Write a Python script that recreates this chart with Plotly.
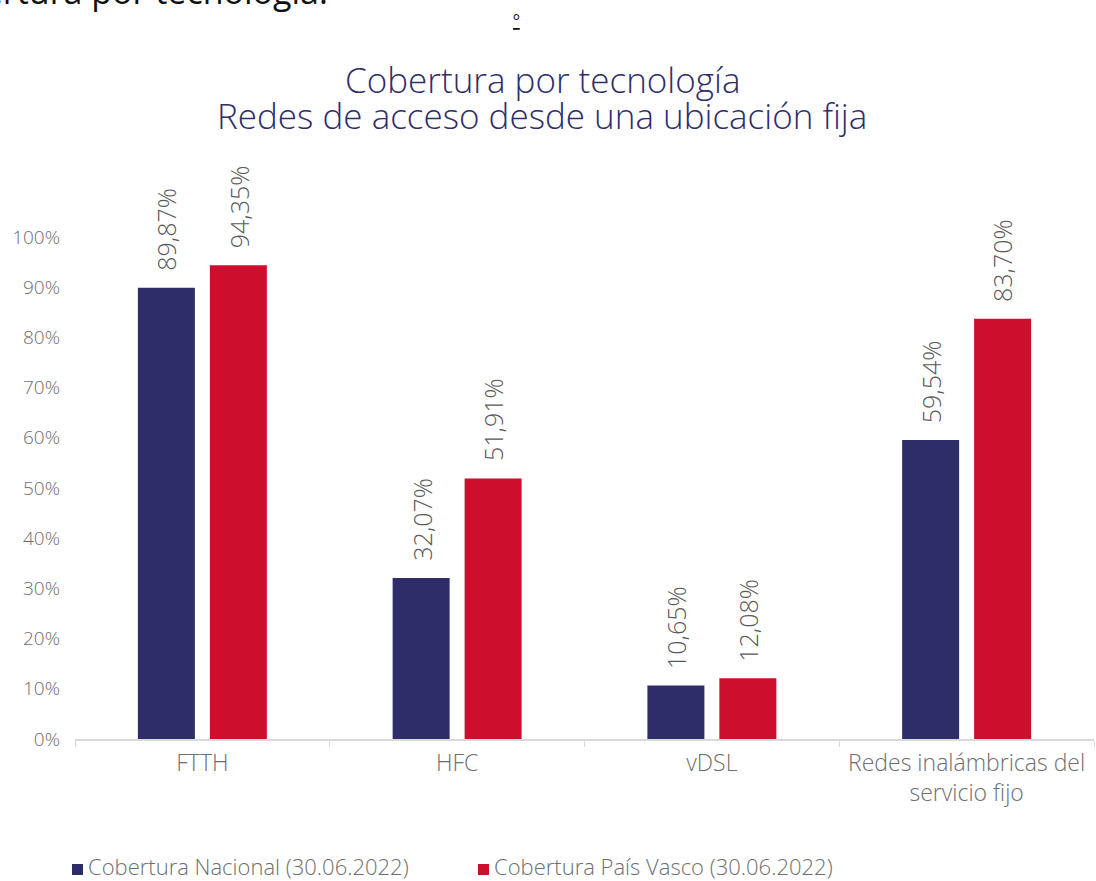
import plotly.graph_objects as go

# Coverage by access technology (fixed location), share of premises
categorias = ["FTTH", "HFC", "vDSL", "Redes inalámbricas del<br>servicio fijo"]
nacional = [89.87, 32.07, 10.65, 59.54]
pais_vasco = [94.35, 51.91, 12.08, 83.70]
serie_nacional = "Cobertura Nacional (30.06.2022)"
serie_vasco = "Cobertura País Vasco (30.06.2022)"
y_ticks = [0, 10, 20, 30, 40, 50, 60, 70, 80, 90, 100]
titulo = ["Cobertura por tecnología", "Redes de acceso desde una ubicación fija"]

AZUL = "#2E2D69"
ROJO = "#CE0E2D"
GRIS = "#6E6E6E"
FUENTE = "Open Sans"

W, H = 1096, 881
L, R, T, B = 75, 2, 237, 142
plot_w = W - L - R
plot_h = H - T - B


def px_x(p):
    return (p - L) / plot_w


def px_y(p):
    return (H - B - p) / plot_h


def etiqueta(v):
    return f"{v:.2f}".replace(".", ",") + "%"


fig = go.Figure()
fig.add_trace(go.Bar(x=categorias, y=nacional, name=serie_nacional, showlegend=False,
                     marker=dict(color=AZUL, line=dict(width=0))))
fig.add_trace(go.Bar(x=categorias, y=pais_vasco, name=serie_vasco, showlegend=False,
                     marker=dict(color=ROJO, line=dict(width=0))))

BARGAP = 0.435
BARGROUPGAP = 0.208
slot = (1 - BARGAP) / 2
annotations = []
shapes = []
for i in range(len(categorias)):
    for v, off in ((nacional[i], -slot / 2), (pais_vasco[i], slot / 2)):
        annotations.append(dict(
            x=i + off, y=v, xref="x", yref="y", text=etiqueta(v),
            textangle=-90, showarrow=False, xanchor="center", yanchor="bottom",
            yshift=15, font=dict(family=FUENTE, size=25, color="#595959", weight=300),
        ))

# chart title, two lines
for linea, cy in zip(titulo, (79, 115)):
    annotations.append(dict(
        x=px_x(542), y=px_y(cy), xref="paper", yref="paper", text=linea,
        showarrow=False, xanchor="center", yanchor="middle",
        font=dict(family=FUENTE, size=35, color=AZUL, weight=300),
    ))

# legend row: coloured square followed by the series name
for nombre, color, x0 in ((serie_nacional, AZUL, 72), (serie_vasco, ROJO, 478)):
    shapes.append(dict(
        type="rect", xref="paper", yref="paper",
        x0=px_x(x0), x1=px_x(x0 + 11), y0=px_y(875), y1=px_y(864),
        fillcolor=color, line=dict(width=0),
    ))
    annotations.append(dict(
        x=px_x(x0 + 15), y=px_y(866), xref="paper", yref="paper",
        text=nombre, showarrow=False, xanchor="left", yanchor="middle", borderpad=0,
        font=dict(family=FUENTE, size=22, color=GRIS, weight=300),
    ))

# heading text at the top of the page
annotations.append(dict(
    x=px_x(330), y=px_y(-9), xref="paper", yref="paper", text="Cobertura por tecnología.",
    showarrow=False, xanchor="right", yanchor="middle",
    font=dict(family=FUENTE, size=34, color="#111111"),
))
annotations.append(dict(
    x=px_x(516), y=px_y(20), xref="paper", yref="paper", text="<u>º</u>",
    showarrow=False, xanchor="center", yanchor="middle",
    font=dict(family=FUENTE, size=18, color="#111111"),
))

fig.update_layout(
    width=W, height=H,
    margin=dict(l=L, r=R, t=T, b=B, autoexpand=False),
    paper_bgcolor="white", plot_bgcolor="white",
    barmode="group", bargap=BARGAP, bargroupgap=BARGROUPGAP,
    showlegend=False,
    xaxis=dict(
        showline=True, linecolor="#D9D9D9", linewidth=1.5,
        ticks="outside", tickson="boundaries", ticklen=6, tickcolor="#D9D9D9",
        ticklabelstandoff=3,
        tickfont=dict(family=FUENTE, size=23, color=GRIS, weight=300),
        showgrid=False,
    ),
    yaxis=dict(
        range=[0, 100], tickvals=y_ticks, ticktext=[f"{t}%" for t in y_ticks],
        showgrid=False, showline=False, zeroline=False,
        ticklabelstandoff=14,
        tickfont=dict(family=FUENTE, size=19, color=GRIS, weight=300),
    ),
    shapes=shapes,
    annotations=annotations,
)

fig.write_html("out.html")
